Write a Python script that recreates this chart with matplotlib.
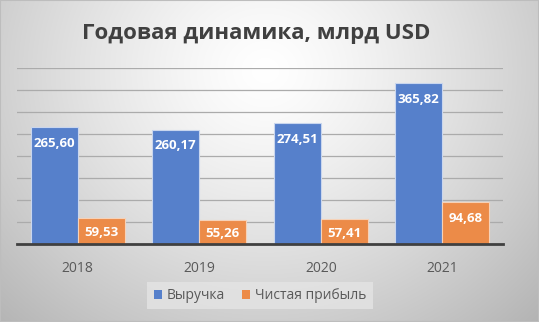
import numpy as np
import matplotlib.pyplot as plt
from matplotlib.patches import Patch

years = ["2018", "2019", "2020", "2021"]
revenue = [265.60, 260.17, 274.51, 365.82]
net_income = [59.53, 55.26, 57.41, 94.68]
series_names = ["Выручка", "Чистая прибыль"]
title = "Годовая динамика, млрд USD"

W, H, DPI = 539, 322, 100
fig = plt.figure(figsize=(W / DPI, H / DPI), dpi=DPI)
plt.rcParams['font.family'] = ['Open Sans', 'DejaVu Sans']

# radial grey background
bg = fig.add_axes([0, 0, 1, 1], zorder=-10)
yy, xx = np.mgrid[0:H, 0:W]
r = np.sqrt(((xx - 265) / 330.0) ** 2 + ((yy - 70) / 300.0) ** 2)
val = 1.0 - 0.24 * np.clip(r, 0, 1.3) ** 1.3
img = np.dstack([val, val, val])
bg.imshow(img, aspect='auto', extent=[0, 1, 0, 1], origin='upper')
bg.set_axis_off()
bg.add_patch(plt.Rectangle((0, 0), 1, 1, transform=bg.transAxes, fill=False,
                           edgecolor='#BDBDBD', linewidth=1.5))

# plot area in pixel units
left, right, top, bottom = 17, 503, 68, 244
ax = fig.add_axes([left / W, (H - bottom) / H, (right - left) / W, (bottom - top) / H])
ax.patch.set_alpha(0)

x = np.arange(len(years))
bw = 0.387
blue = '#5680CB'
orange = '#EC8B48'
b1 = ax.bar(x - bw / 2, revenue, bw, color=blue, edgecolor='#C9D6EE', linewidth=0.8, zorder=3)
b2 = ax.bar(x + bw / 2, net_income, bw, color=orange, edgecolor='#F6D2B8', linewidth=0.8, zorder=3)

ax.set_ylim(0, 400)
ax.set_xlim(-0.5, len(years) - 0.5)
ax.set_yticks(np.arange(0, 401, 50))
ax.yaxis.grid(True, color='#ABABAB', linewidth=0.9, zorder=0)
ax.set_axisbelow(True)
ax.tick_params(axis='y', left=False, labelleft=False)
ax.tick_params(axis='x', bottom=False, labelsize=10, labelcolor='#595959', pad=9)
ax.set_xticks(x)
ax.set_xticklabels(years)
for s in ['left', 'right', 'top']:
    ax.spines[s].set_visible(False)
ax.spines['bottom'].set_color('#404040')
ax.spines['bottom'].set_linewidth(2)
ax.spines['bottom'].set_zorder(4)

px_per_unit = (bottom - top) / 400.0
def label_bars(bars, vals):
    for rect, v in zip(bars, vals):
        h_px = v * px_per_unit
        off = min(16, h_px / 2 + 2)
        ytxt = v - off / px_per_unit
        ax.text(rect.get_x() + rect.get_width() / 2, ytxt, f"{v:.2f}".replace('.', ','),
                ha='center', va='center', color='white', fontsize=9.5,
                fontweight='bold', zorder=5)

label_bars(b1, revenue)
label_bars(b2, net_income)

fig.text(256 / W, 1 - 33 / H, title, ha='center', va='center', fontsize=16,
         fontweight='bold', color='#404040')

handles = [Patch(facecolor=blue), Patch(facecolor=orange)]
leg = fig.legend(handles, series_names, loc='center', bbox_to_anchor=(260 / W, 1 - 295.5 / H),
                 ncol=2, frameon=True, fontsize=10, handlelength=0.6, handleheight=0.6,
                 handletextpad=0.35, columnspacing=1.2, borderpad=0.45, fancybox=False)
leg.get_frame().set_facecolor('#E4E4E4')
leg.get_frame().set_edgecolor('none')
leg.get_frame().set_alpha(0.8)
for t in leg.get_texts():
    t.set_color('#595959')

fig.savefig('out.png', dpi=DPI)
